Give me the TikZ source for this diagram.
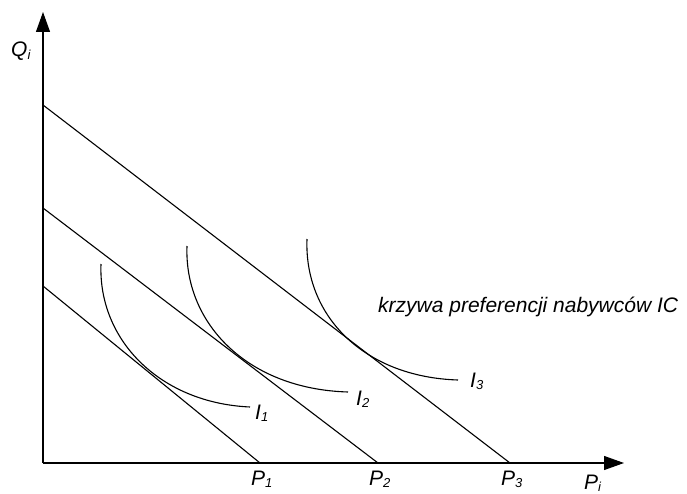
\documentclass[tikz,border=0pt]{standalone}
\usepackage{fontspec}
\setmainfont{Liberation Sans}
\usetikzlibrary{arrows.meta}
\newcommand{\subx}[1]{\raisebox{-0.25ex}{\fontsize{13}{13}\selectfont #1}}
\begin{document}
\begin{tikzpicture}[x=1pt,y=-1pt,
  ax/.style={line width=1.1pt,-{Triangle[length=20pt,width=14pt]}},
  ln/.style={line width=1.1pt},
  lbl/.style={font=\fontsize{21}{24}\selectfont\itshape,inner sep=0pt,anchor=base west}]
\useasboundingbox (0,0) rectangle (687,494);
\coordinate (O) at (43,463);
\coordinate (Ytop) at (43,12);
\coordinate (Xend) at (624,463);
\draw[ax] (O) -- (Ytop);
\draw[ax] (O) -- (Xend);
% budget lines
\coordinate (A1) at (43,286); \coordinate (B1) at (260,463);
\coordinate (A2) at (43,208); \coordinate (B2) at (378,463);
\coordinate (A3) at (43,105); \coordinate (B3) at (510,463);
\draw[ln] (A1) -- (B1);
\draw[ln] (A2) -- (B2);
\draw[ln] (A3) -- (B3);
% indifference curves
\coordinate (S1) at (101,264); \coordinate (E1) at (250,407);
\coordinate (S2) at (187,246); \coordinate (E2) at (348,392);
\coordinate (S3) at (307,239); \coordinate (E3) at (458,380);
\draw[ln] (S1) .. controls (98,340) and (160,403) .. (E1);
\draw[ln] (S2) .. controls (184,322) and (246,389) .. (E2);
\draw[ln] (S3) .. controls (304,316) and (364,377) .. (E3);
% labels
\node[lbl] (q) at (11,57) {Q\subx{i}};
\node[lbl] (p1) at (251,485) {P\subx{1}};
\node[lbl] (p2) at (369,485) {P\subx{2}};
\node[lbl] (p3) at (501,485) {P\subx{3}};
\node[lbl] (pi) at (584,489) {P\subx{i}};
\node[lbl] (i1) at (255,419) {I\subx{1}};
\node[lbl] (i2) at (356,405) {I\subx{2}};
\node[lbl] (i3) at (470,387) {I\subx{3}};
\node[lbl] (ic) at (378,312) {krzywa preferencji nabywców IC};
\end{tikzpicture}
\end{document}
